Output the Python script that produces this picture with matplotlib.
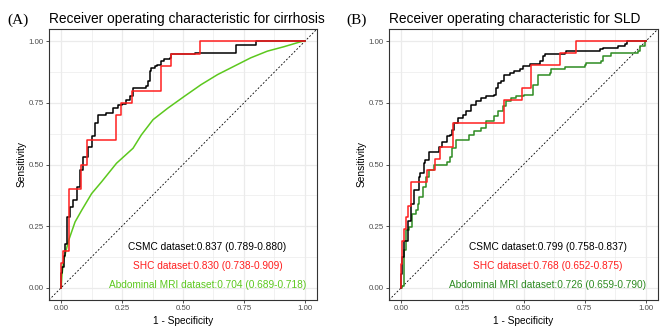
import matplotlib
matplotlib.use("Agg")
import matplotlib.pyplot as plt
from matplotlib.ticker import MultipleLocator

plt.rcParams["font.family"] = ["Liberation Sans", "DejaVu Sans"]

# ROC curve vertices (1 - specificity, sensitivity) for each dataset
# cirrhosis
cir_csmc_fpr = [0, 0, 0.003, 0.01, 0.016, 0.023, 0.037, 0.05, 0.064, 0.078, 0.091,
                0.111, 0.125, 0.139, 0.152, 0.18, 0.186, 0.20, 0.213,
                0.234, 0.25, 0.268, 0.282, 0.295, 0.35, 0.356, 0.363, 0.37, 0.384, 0.395,
                0.411, 0.424, 0.445, 0.452, 0.506, 0.55, 0.717, 0.799, 1.0]
cir_csmc_tpr = [0, 0.06, 0.083, 0.13, 0.178, 0.287, 0.328, 0.355, 0.41, 0.478, 0.532,
                0.573, 0.614, 0.668, 0.70, 0.70, 0.709, 0.709, 0.729,
                0.743, 0.745, 0.763, 0.777, 0.811, 0.817, 0.838, 0.879, 0.892, 0.899, 0.905,
                0.92, 0.927, 0.933, 0.947, 0.949, 0.953, 0.984, 1.0, 1.0]

cir_shc_fpr = [0, 0, 0.007, 0.007, 0.033, 0.033, 0.08, 0.08, 0.107, 0.107, 0.224, 0.224,
               0.244, 0.244, 0.289, 0.289, 0.408, 0.408, 0.452, 0.452, 0.571, 0.571, 1.0]
cir_shc_tpr = [0, 0.10, 0.10, 0.15, 0.15, 0.40, 0.40, 0.50, 0.50, 0.60, 0.60, 0.70,
               0.70, 0.75, 0.75, 0.80, 0.80, 0.90, 0.90, 0.95, 0.95, 1.0, 1.0]

cir_mri_fpr = [0, 0.003, 0.01, 0.03, 0.057, 0.084, 0.125, 0.166, 0.227, 0.295, 0.329,
               0.377, 0.438, 0.506, 0.574, 0.642, 0.71, 0.778, 0.846, 0.914, 0.989, 1.0]
cir_mri_tpr = [0, 0.05, 0.11, 0.19, 0.267, 0.314, 0.382, 0.43, 0.505, 0.566, 0.62,
               0.682, 0.729, 0.777, 0.824, 0.865, 0.899, 0.933, 0.96, 0.978, 1.0, 1.0]

# SLD
sld_csmc_fpr = [0, 0, 0.005, 0.012, 0.026, 0.04, 0.053, 0.074, 0.078, 0.094, 0.098, 0.115,
                0.139, 0.153, 0.167, 0.187, 0.2, 0.208, 0.217, 0.231, 0.251, 0.265, 0.286,
                0.306, 0.327, 0.347, 0.381, 0.388, 0.395, 0.409, 0.422, 0.443, 0.463, 0.484,
                0.497, 0.525, 0.566, 0.579, 0.586, 0.668, 0.672, 0.811, 0.825, 0.886, 0.914,
                0.924, 1.0]
sld_csmc_tpr = [0, 0.056, 0.124, 0.19, 0.27, 0.34, 0.396, 0.45, 0.464, 0.505, 0.518, 0.552,
                0.552, 0.573, 0.593, 0.614, 0.62, 0.64, 0.668, 0.689, 0.702, 0.716, 0.743,
                0.757, 0.77, 0.777, 0.784, 0.811, 0.831, 0.839, 0.865, 0.873, 0.88, 0.886,
                0.899, 0.909, 0.92, 0.94, 0.947, 0.951, 0.96, 0.967, 0.974, 0.98, 0.988,
                1.0, 1.0]

sld_shc_fpr = [0, 0, 0.004, 0.004, 0.01, 0.01, 0.02, 0.02, 0.026, 0.026, 0.038, 0.038,
               0.105, 0.105, 0.137, 0.137, 0.16, 0.16, 0.21, 0.21, 0.419, 0.419, 0.492,
               0.492, 0.529, 0.529, 0.648, 0.648, 0.713, 0.713, 1.0]
sld_shc_tpr = [0, 0.095, 0.095, 0.19, 0.19, 0.238, 0.238, 0.286, 0.286, 0.333, 0.333, 0.429,
               0.429, 0.476, 0.476, 0.524, 0.524, 0.571, 0.571, 0.667, 0.667, 0.762, 0.762,
               0.81, 0.81, 0.905, 0.905, 0.952, 0.952, 1.0, 1.0]

sld_mri_fpr = [0, 0.005, 0.012, 0.012, 0.019, 0.033, 0.046, 0.06, 0.067, 0.071, 0.087, 0.101,
               0.115, 0.135, 0.167, 0.187, 0.2, 0.208, 0.224, 0.258, 0.279, 0.299, 0.327,
               0.347, 0.381, 0.395, 0.415, 0.429, 0.45, 0.47, 0.504, 0.538, 0.559, 0.607,
               0.613, 0.668, 0.75, 0.757, 0.818, 0.825, 0.859, 0.969, 0.975, 0.996, 1.0]
sld_mri_tpr = [0, 0.008, 0.008, 0.151, 0.233, 0.246, 0.30, 0.314, 0.34, 0.369, 0.41, 0.45,
               0.478, 0.498, 0.50, 0.511, 0.532, 0.566, 0.60, 0.60, 0.62, 0.634, 0.648,
               0.675, 0.695, 0.716, 0.736, 0.757, 0.77, 0.777, 0.784, 0.824, 0.865, 0.873,
               0.889, 0.895, 0.903, 0.913, 0.92, 0.94, 0.954, 0.96, 0.98, 1.0, 1.0]

cir_labels = ["CSMC dataset:0.837 (0.789-0.880)",
              "SHC dataset:0.830 (0.738-0.909)",
              "Abdominal MRI dataset:0.704 (0.689-0.718)"]
sld_labels = ["CSMC dataset:0.799 (0.758-0.837)",
              "SHC dataset:0.768 (0.652-0.875)",
              "Abdominal MRI dataset:0.726 (0.659-0.790)"]
label_y = [0.167, 0.09, 0.011]

RED = "#FF1F1F"
LIME = "#5CC81E"
FOREST = "#2E8B22"


def style_axes(ax):
    ax.set_xlim(-0.05, 1.05)
    ax.set_ylim(-0.05, 1.05)
    ax.xaxis.set_major_locator(MultipleLocator(0.25))
    ax.yaxis.set_major_locator(MultipleLocator(0.25))
    ax.xaxis.set_minor_locator(MultipleLocator(0.125))
    ax.yaxis.set_minor_locator(MultipleLocator(0.125))
    ax.xaxis.set_major_formatter(lambda v, p: f"{v:.2f}")
    ax.yaxis.set_major_formatter(lambda v, p: f"{v:.2f}")
    ax.grid(which="major", color="#EBEBEB", lw=0.9)
    ax.grid(which="minor", color="#EBEBEB", lw=0.5)
    ax.set_axisbelow(True)
    ax.tick_params(which="major", length=2.5, width=0.6, color="#333333",
                   labelsize=5.7, labelcolor="#4D4D4D", pad=1.2)
    ax.tick_params(which="minor", length=0)
    for s in ax.spines.values():
        s.set_color("#333333")
        s.set_linewidth(0.8)
    # chance line across the whole panel
    ax.axline((0, 0), (1, 1), color="black", lw=0.6, ls=(0, (2.2, 2.2)))


def draw_panel(ax, curves, labels):
    """curves: (fpr, tpr, drawstyle, colour), drawn bottom to top;
    labels listed in the order CSMC, SHC, MRI."""
    style_axes(ax)
    for fpr, tpr, ds, c in curves:
        ax.plot(fpr, tpr, color=c, lw=1.1, drawstyle=ds)
    colours = [curves[1][3], curves[2][3], curves[0][3]]
    for y, lab, c in zip(label_y, labels, colours):
        ax.text(0.6, y, lab, color=c, fontsize=7.3, ha="center", va="center")


fig = plt.figure(figsize=(6.72, 3.36), dpi=100)
axA = fig.add_axes([49 / 672, 36 / 336, 268 / 672, 271 / 336])
axB = fig.add_axes([389 / 672, 36 / 336, 269 / 672, 271 / 336])

# MRI underneath, then CSMC, then SHC on top
draw_panel(axA, [(cir_mri_fpr, cir_mri_tpr, "default", LIME),
                 (cir_csmc_fpr, cir_csmc_tpr, "steps-post", "black"),
                 (cir_shc_fpr, cir_shc_tpr, "default", RED)], cir_labels)
draw_panel(axB, [(sld_mri_fpr, sld_mri_tpr, "steps-post", FOREST),
                 (sld_csmc_fpr, sld_csmc_tpr, "steps-post", "black"),
                 (sld_shc_fpr, sld_shc_tpr, "default", RED)], sld_labels)

# titles, panel letters and axis titles
for x0, title, letter, lx in [(49.3, "Receiver operating characteristic for cirrhosis", "(A)", 7),
                              (389.3, "Receiver operating characteristic for SLD", "(B)", 346)]:
    fig.text(x0 / 672, 1 - 22.7 / 336, title, fontsize=9.9, ha="left", va="baseline")
    fig.text(lx / 672, 1 - 20 / 336, letter, fontsize=11, ha="left", va="center",
             family="Liberation Serif")

for cx, cy in [(183, 21.7), (523.5, 361.7)]:
    fig.text(cx / 672, 1 - 320.7 / 336, "1 - Specificity", fontsize=7.3,
             ha="center", va="center")
    fig.text(cy / 672, 1 - 164.5 / 336, "Sensitivity", fontsize=7.3,
             ha="center", va="center", rotation=90)

fig.savefig("out.png", dpi=100)
